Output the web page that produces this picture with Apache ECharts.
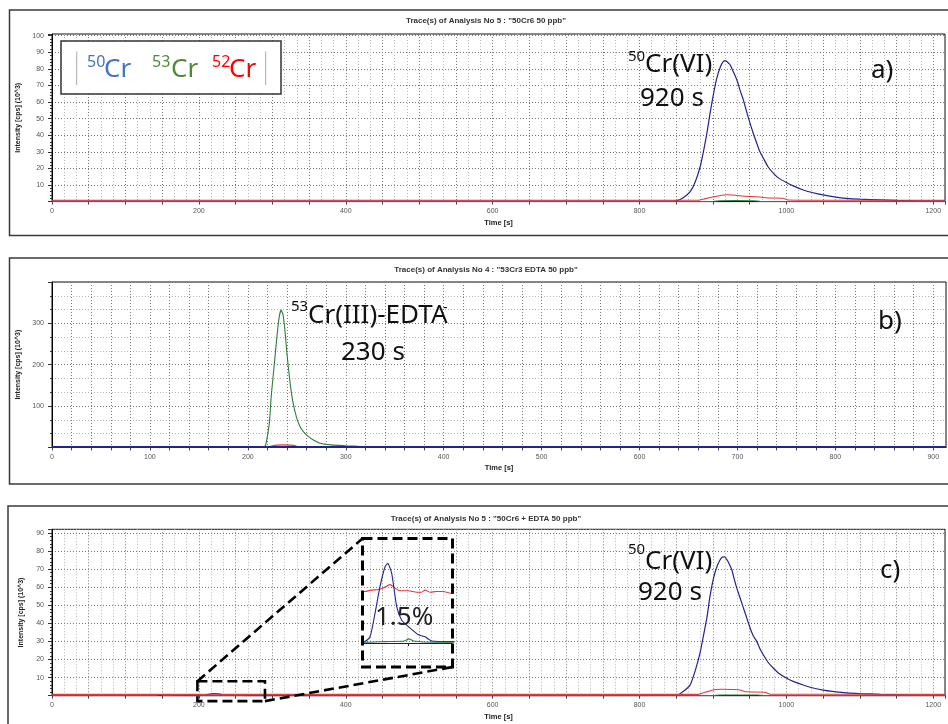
<!DOCTYPE html>
<html><head><meta charset="utf-8">
<script src="https://cdn.jsdelivr.net/npm/echarts@6/dist/echarts.min.js"></script>
<style>html,body{margin:0;padding:0;background:#fff}#c{width:948px;height:724px}</style>
</head><body><div id="c"></div><script>
// ---------- DATA (time [s], intensity [cps] x10^3) ----------
const titles = [
  'Trace(s) of Analysis No 5 : "50Cr6 50 ppb"',
  'Trace(s) of Analysis No 4 : "53Cr3 EDTA 50 ppb"',
  'Trace(s) of Analysis No 5 : "50Cr6 + EDTA 50 ppb"'
];
// panel a
const a50 = [[0,0.3],[300,0.3],[600,0.3],[840,0.3],[851,0.6],[860,2.5],[869,6],[876,12],[882.6,21],[887,30],[891.7,41],[896,53],[900.8,65],[905,74],[909.9,81],[914,84.3],[917,85],[920,84],[923.4,82.5],[928,78],[932.5,73.4],[937,67],[941.6,61],[946,54],[950.7,47],[955,41],[959.8,35],[964,30],[968.8,26],[975,21],[982.4,17],[990,14],[1000.6,11.4],[1010,9.3],[1023,7],[1035,5.5],[1050,4],[1065,2.9],[1082,2],[1100,1.5],[1128,1],[1150,0.7],[1180,0.5],[1216,0.4]];
const a52 = [[0,0.8],[300,0.8],[600,0.8],[880,0.8],[890,1.8],[900,2.8],[910,3.7],[919,4.1],[930,3.8],[945,3.2],[960,2.9],[975,2.2],[995,2.0],[1002,1.0],[1100,0.8],[1216,0.8]];
const a53 = [[0,0.1],[600,0.1],[900,0.1],[910,0.5],[930,0.6],[955,0.5],[965,0.1],[1216,0.1]];
// panel b
const b50 = [[0,0.8],[200,0.8],[400,0.8],[600,0.8],[800,0.8],[913,0.8]];
const b53 = [[0,0.5],[214,0.5],[217.6,3],[219,14],[222,60],[224,127],[227,200],[229.5,263],[232,315],[234,332],[236,320],[238,280],[240,225],[243,159],[246,110],[250,70],[253,52],[256.7,38],[261,28],[267,18],[274,10],[285,6],[300,4],[310,3],[318,2],[320,0.5],[913,0.5]];
const b52 = [[0,0.5],[220,0.5],[224,3],[230,5.5],[236,6],[242,5.5],[248,4.5],[251,1],[254,0.5],[913,0.5]];
// panel c
const c50 = [[0,0.1],[140,0.1],[147,0.6],[153,0.1],[198.3,0.02],[204.3,0.09],[209.5,0.43],[214.7,0.82],[220,1.11],[222.8,1.16],[227,1.01],[232.2,0.53],[237.4,0.33],[244.3,0.24],[254.8,0.12],[261.8,0.09],[268.8,0.03],[289.7,0.02],[400,0.05],[600,0.05],[840,0.1],[851,0.3],[860,2.5],[869,6],[876,14],[882.6,24],[887,33],[891.7,43],[896,55],[900.8,65],[906,72],[912,76.5],[916,76.8],[919,75.2],[922,73],[925.7,69.6],[929,64.5],[932.5,59.5],[937,54],[941.6,48.4],[946,43],[950.7,37.3],[955,33],[959.8,29.9],[964,26],[968.8,22.5],[975,18.5],[982.4,15.2],[990,12.3],[1000.6,9.6],[1010,7.8],[1023,5.9],[1035,4.4],[1050,3.1],[1065,2.3],[1082,1.6],[1100,1.2],[1128,0.8],[1160,0.5],[1216,0.3]];
const c52 = [[0,0.76],[150,0.76],[198.3,0.75],[206,0.77],[213,0.78],[218.2,0.8],[225.2,0.85],[230.4,0.8],[235.6,0.76],[244.3,0.76],[253.1,0.74],[258.3,0.74],[261.8,0.77],[267,0.74],[274,0.75],[280.9,0.75],[289.7,0.72],[600,0.76],[880,0.76],[890,2],[903,3.4],[912,3.6],[935,3.3],[945,2.2],[971,1.9],[978,0.8],[1216,0.76]];
const c53 = [[0,0.02],[140,0.02],[147,0.4],[154,0.02],[198.3,0.01],[220,0.02],[240,0.03],[245,0.06],[250,0.03],[270,0.01],[289.7,0.01],[600,0.05],[900,0.1],[910,0.4],[960,0.4],[970,0.1],[1216,0.05]];
// zoom window of panel c shown in the inset
const zoomT = [198, 290];
const zoomV = [-3, 8];
const insetV = [0, 1.5];
// axis ranges
const xMaxAC = 1216, xMaxB = 913;
const yMaxA = 101, yMaxB = 400, yMaxC = 92;

// ---------- CHART ----------
const BLUE = '#23238e', RED = '#e0393e', GREEN = '#2e7d3a';
const chart = echarts.init(document.getElementById('c'), null, {renderer: 'canvas'});
const FF = 'Liberation Sans, Arial, sans-serif';
const NF = 'Noto Sans, Open Sans, sans-serif';

function xAx(gi, max, interval, labelEvery, minorSplit) {
  return {
    type: 'value', gridIndex: gi, min: 0, max: max, interval: interval,
    name: 'Time [s]', nameLocation: 'middle', nameGap: 17,
    nameTextStyle: {fontSize: 7.5, fontWeight: 'bold', color: '#222', fontFamily: FF},
    axisLine: {show: true, onZero: false, lineStyle: {color: '#000', width: 1}},
    axisTick: {show: true, length: 3, lineStyle: {color: '#444'}},
    axisLabel: {fontSize: 7, color: '#555', margin: 6, fontFamily: FF, showMaxLabel: false,
      formatter: v => (Math.abs(v % labelEvery) < 1e-6 ? String(v) : '')},
    splitLine: {show: true, lineStyle: {color: '#777', width: 1, type: [1, 2]}},
    minorTick: {show: minorSplit > 0, splitNumber: minorSplit || 5, length: 0},
    minorSplitLine: {show: minorSplit > 0, lineStyle: {color: '#b5b5b5', width: 1, type: [1, 2]}}
  };
}
function yAx(gi, max, interval, minorSplit, minorLines) {
  return {
    type: 'value', gridIndex: gi, min: 0, max: max, interval: interval,
    name: 'Intensity [cps] (10^3)', nameLocation: 'middle', nameGap: 27, nameRotate: 90,
    nameTextStyle: {fontSize: 7, fontWeight: 'bold', color: '#222', fontFamily: FF},
    axisLine: {show: true, onZero: false, lineStyle: {color: '#000', width: 1}},
    axisTick: {show: true, length: 4, lineStyle: {color: '#333'}},
    minorTick: {show: true, splitNumber: minorSplit, length: 2, lineStyle: {color: '#333'}},
    axisLabel: {fontSize: 7, color: '#555', margin: 8, fontFamily: FF, showMinLabel: false, showMaxLabel: false},
    splitLine: {show: true, lineStyle: {color: '#777', width: 1, type: [1, 2]}},
    minorSplitLine: {show: minorLines, lineStyle: {color: '#b5b5b5', width: 1, type: [1, 2]}}
  };
}
function ser(name, data, color, gi, z, w) {
  return {type: 'line', name: name, data: data, xAxisIndex: gi, yAxisIndex: gi,
    showSymbol: false, symbol: 'none', smooth: 0.2, z: z, animation: false, silent: true,
    lineStyle: {color: color, width: w || 1.1}, itemStyle: {color: color}};
}

const gridStyle = {show: true, borderColor: '#111', borderWidth: 1, backgroundColor: 'transparent'};
const option = {
  backgroundColor: '#fff',
  animation: false,
  grid: [
    Object.assign({left: 52, top: 34, width: 893, height: 167.6}, gridStyle),
    Object.assign({left: 52, top: 282, width: 894, height: 165.4}, gridStyle),
    Object.assign({left: 52, top: 529.3, width: 893, height: 166.4}, gridStyle),
    {left: 364, top: 540, width: 88, height: 103, show: false}
  ],
  xAxis: [
    xAx(0, xMaxAC, 50, 200, 3),
    xAx(1, xMaxB, 20, 100, 0),
    xAx(2, xMaxAC, 50, 200, 3),
    {type: 'value', gridIndex: 3, min: zoomT[0], max: zoomT[1],
      axisLine: {show: true, onZero: false, lineStyle: {color: '#222', width: 1}},
      axisTick: {show: true, length: 3, customValues: [244], lineStyle: {color: '#222'}},
      axisLabel: {show: false}, splitLine: {show: false}}
  ],
  yAxis: [
    yAx(0, yMaxA, 10, 5, false),
    yAx(1, yMaxB, 100, 3, true),
    yAx(2, yMaxC, 10, 5, false),
    {type: 'value', gridIndex: 3, min: insetV[0], max: insetV[1], show: false}
  ],
  series: [
    ser('50Cr', a50, BLUE, 0, 2, 1.2), ser('53Cr', a53, GREEN, 0, 3), ser('52Cr', a52, RED, 0, 4),
    ser('52Cr', b52, RED, 1, 2), ser('53Cr', b53, GREEN, 1, 3), ser('50Cr', b50, BLUE, 1, 4, 2),
    ser('50Cr', c50, BLUE, 2, 2, 1.2), ser('53Cr', c53, GREEN, 2, 3), ser('52Cr', c52, RED, 2, 4),
    ser('52Cr', c52, RED, 3, 2), ser('50Cr', c50, BLUE, 3, 3), ser('53Cr', c53, GREEN, 3, 4)
  ]
};
chart.setOption(option);

function txt(x, y, text, size, color, opts) {
  return Object.assign({type: 'text', x: x, y: y, z: 60, silent: true,
    style: Object.assign({text: text, fontSize: size, fontFamily: NF, fill: color || '#111',
      textAlign: 'left', textVerticalAlign: 'middle', align: 'left', verticalAlign: 'middle'}, (opts || {}))});
}
function ttl(x, y, text) {
  return {type: 'text', x: x, y: y, z: 60, silent: true,
    style: {text: text, fontSize: 8, fontWeight: 'bold', fontFamily: FF, fill: '#333',
      textAlign: 'center', textVerticalAlign: 'middle', align: 'center', verticalAlign: 'middle'}};
}
function frame(x, y, w, h) {
  return {type: 'rect', z: 1, silent: true, shape: {x: x, y: y, width: w, height: h},
    style: {fill: 'none', stroke: '#3a3a3a', lineWidth: 1.5}};
}

const tl = chart.convertToPixel({gridIndex: 2}, [zoomT[0], zoomV[1]]);
const br = chart.convertToPixel({gridIndex: 2}, [zoomT[1], zoomV[0]]);
const inset = {x: 362.5, y: 538.5, w: 90, h: 128.5};
const dash = {stroke: '#000', fill: 'none', lineWidth: 2.6, lineDash: [10, 5]};

const graphics = [
  frame(9.5, 10, 945, 225.5), frame(9.5, 258, 945, 226), frame(8, 506, 946, 240),
  ttl(486, 20.5, titles[0]), ttl(486, 270, titles[1]), ttl(486, 518.5, titles[2]),
  // legend box
  {type: 'rect', z: 55, silent: true, shape: {x: 61, y: 41, width: 220, height: 53},
    style: {fill: '#fff', stroke: '#333', lineWidth: 1.5}},
  {type: 'line', z: 56, silent: true, shape: {x1: 76.7, y1: 51.5, x2: 76.7, y2: 85}, style: {stroke: '#aaa', lineWidth: 1}},
  {type: 'line', z: 56, silent: true, shape: {x1: 265.7, y1: 51.5, x2: 265.7, y2: 85}, style: {stroke: '#aaa', lineWidth: 1}},
  txt(87, 62.5, '50', 16, '#4472C4'), txt(104, 70, 'Cr', 26, '#4472C4'),
  txt(152, 62.5, '53', 16, '#4f8a35'), txt(171, 70, 'Cr', 26, '#4f8a35'),
  txt(212, 62.5, '52', 16, '#ff0000'), txt(229, 70, 'Cr', 26, '#ff0000'),
  // panel a annotations
  txt(628, 57, '50', 15), txt(645, 64.5, 'Cr(VI)', 26), txt(640, 99, '920 s', 26), txt(871, 71, 'a)', 26),
  // panel b annotations
  txt(291, 306.5, '53', 15), txt(308, 316, 'Cr(III)-EDTA', 26), txt(443, 308, '-', 14), txt(341, 353, '230 s', 26), txt(878, 322, 'b)', 26),
  // panel c annotations
  txt(628, 550, '50', 15), txt(645, 561.5, 'Cr(VI)', 26), txt(638, 593, '920 s', 26), txt(880, 571, 'c)', 26),
  txt(375, 617.5, '1.5%', 26, '#222'),
  // zoom box and connectors
  {type: 'rect', z: 58, silent: true, shape: {x: inset.x, y: inset.y, width: inset.w, height: inset.h},
    style: Object.assign({}, dash, {lineWidth: 3})},
  {type: 'rect', z: 58, silent: true, shape: {x: tl[0], y: tl[1], width: br[0] - tl[0], height: br[1] - tl[1]}, style: dash},
  {type: 'line', z: 58, silent: true, shape: {x1: tl[0], y1: tl[1], x2: inset.x, y2: inset.y}, style: dash},
  {type: 'line', z: 58, silent: true, shape: {x1: br[0], y1: br[1], x2: inset.x + inset.w, y2: inset.y + inset.h}, style: dash}
];
chart.setOption({graphic: graphics});
</script></body></html>
